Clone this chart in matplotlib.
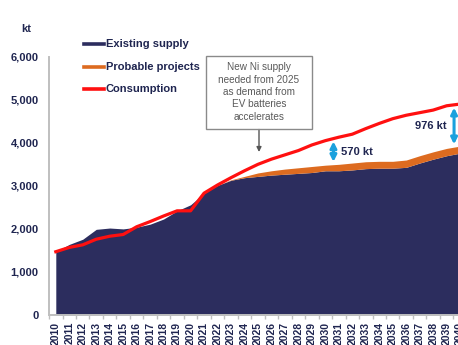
import matplotlib
matplotlib.use("Agg")
import matplotlib.pyplot as plt
import numpy as np
from matplotlib.lines import Line2D
from matplotlib.patches import Rectangle

plt.rcParams['font.family'] = ['Liberation Sans', 'DejaVu Sans']

# 镍供需 (kt)
years = list(range(2010, 2041))
existing_supply = [1470, 1640, 1760, 1990, 2020, 2000, 2040, 2110, 2230, 2420,
                   2560, 2830, 3010, 3130, 3190, 3220, 3250, 3270, 3290, 3310,
                   3350, 3350, 3370, 3400, 3410, 3410, 3430, 3530, 3620, 3700,
                   3760]
probable_projects = [0, 0, 0, 0, 0, 0, 0, 0, 0, 0,
                     0, 0, 0, 10, 30, 80, 100, 120, 130, 140,
                     130, 150, 160, 160, 160, 160, 170, 170, 170, 170,
                     164]
consumption = [1470, 1570, 1630, 1760, 1830, 1870, 2050, 2170, 2300, 2420,
               2420, 2830, 3020, 3190, 3350, 3500, 3620, 3720, 3820, 3950,
               4050, 4130, 4200, 4330, 4450, 4560, 4640, 4700, 4760, 4860,
               4900]
legend_labels = ["Existing supply", "Probable projects", "Consumption"]
y_ticks = [0, 1000, 2000, 3000, 4000, 5000, 6000]
gap_years = [2030.6, 2039.55]
gap_labels = ["570 kt", "976 kt"]
note_text = "New Ni supply\nneeded from 2025\nas demand from\nEV batteries\naccelerates"

navy = "#2c2d5e"
orange = "#dd6b20"
red = "#ff1010"
cyan = "#1ba1dd"
txt = "#1f2550"
grey = "#bfbfbf"

W, H = 458, 345
fig = plt.figure(figsize=(W / 100, H / 100), dpi=100)
# 坐标轴右侧超出画布，最后一年被裁掉一部分
ax = fig.add_axes([49.06 / W, 1 - 315 / H, 417.8 / W, 258.3 / H])

yrs = np.array(years)
ex = np.array(existing_supply)
total = ex + np.array(probable_projects)
cons = np.array(consumption)

ax.fill_between(yrs, 0, ex, color=navy, lw=0, zorder=2)
ax.fill_between(yrs, ex, total, color=orange, lw=0, zorder=2)
ax.plot(yrs, cons, color=red, lw=2.3, zorder=4, solid_joinstyle='round')

ax.set_xlim(2009.5, 2040.5)
ax.set_ylim(0, 6000)

for s in ['top', 'right']:
    ax.spines[s].set_visible(False)
for s in ['left', 'bottom']:
    ax.spines[s].set_color(grey)
    ax.spines[s].set_linewidth(1.4)
    ax.spines[s].set_zorder(5)

ax.set_yticks(y_ticks)
ax.set_yticklabels([f"{v:,}" for v in y_ticks])
ax.tick_params(axis='y', length=0, pad=7.5, labelsize=8, labelcolor=txt)
for t in ax.get_yticklabels():
    t.set_fontweight('bold')

ax.set_xticks(years)
ax.set_xticklabels([str(y) for y in years], rotation=90)
ax.set_xticks(np.arange(2009.5, 2041, 1), minor=True)
ax.tick_params(axis='x', which='major', length=0, pad=5, labelsize=7.5, labelcolor=txt)
ax.tick_params(axis='x', which='minor', length=3, color=grey, width=1)
for t in ax.get_xticklabels():
    t.set_fontweight('bold')

# 单位
fig.text(26.5 / W, 1 - 28.5 / H, "kt", ha='center', va='center',
         fontsize=8, fontweight='bold', color=txt)

# 图例
for i, (lab, col) in enumerate(zip(legend_labels, [navy, orange, red])):
    yy = 1 - (44.3 + 22.5 * i) / H
    fig.add_artist(Line2D([83.5 / W, 104 / W], [yy, yy], color=col, lw=2.6,
                          transform=fig.transFigure))
    fig.text(105.5 / W, yy, lab, ha='left', va='center', fontsize=8,
             fontweight='bold', color=txt)

# 说明框和箭头
fig.add_artist(Rectangle((206 / W, 1 - 129 / H), 106 / W, 73.3 / H,
                         transform=fig.transFigure, fill=False,
                         edgecolor="#8a8a8a", lw=1))
fig.text(259 / W, 1 - 92 / H, note_text, ha='center', va='center',
         fontsize=7.2, color="#5a5a5a", linespacing=1.3)
ax.annotate("", xy=(259 / W, 1 - 152 / H), xycoords='figure fraction',
            xytext=(259 / W, 1 - 129.5 / H), textcoords='figure fraction',
            arrowprops=dict(arrowstyle='-|>', color="#555555", lw=1,
                            mutation_scale=7, shrinkA=0, shrinkB=0))

# 缺口箭头
for gx, lab, side in zip(gap_years, gap_labels, [1, -1]):
    top = np.interp(gx, yrs, cons)
    bot = np.interp(gx, yrs, total)
    ax.annotate("", xy=(gx, top), xytext=(gx, bot),
                arrowprops=dict(arrowstyle='<|-|>', color=cyan, lw=2.2,
                                mutation_scale=9, shrinkA=2, shrinkB=2),
                zorder=6)
    ax.text(gx + side * 0.55, (top + bot) / 2, lab,
            ha='left' if side > 0 else 'right', va='center',
            fontsize=8, fontweight='bold', color=txt, zorder=6)

fig.savefig("out.png", dpi=100)
